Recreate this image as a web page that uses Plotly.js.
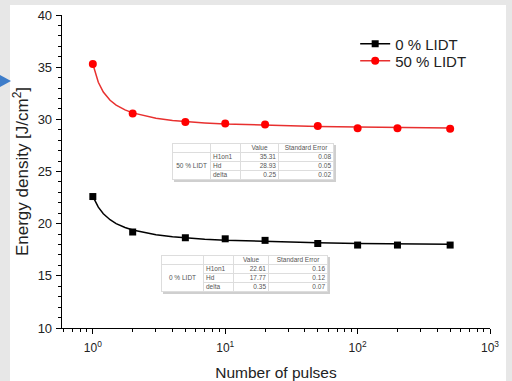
<!DOCTYPE html>
<html>
<head>
<meta charset="utf-8">
<script src="https://cdn.plot.ly/plotly-3.0.1.min.js"></script>
<style>
  html, body { margin:0; padding:0; width:512px; height:381px; background:#e7e7e7; overflow:hidden; font-family:"Liberation Sans", Arial, sans-serif; }
  #panel { position:absolute; left:10px; top:5px; width:496px; height:376px; background:#fff; }
  #plot { position:absolute; left:10px; top:5px; width:496px; height:376px; }
  #arrow { position:absolute; left:0; top:75px; width:0; height:0; border-top:6px solid transparent; border-bottom:6px solid transparent; border-left:11px solid #3d7cc9; }
  table.fit { position:absolute; border-collapse:collapse; font-family:"Liberation Sans", Arial, sans-serif; font-size:6.5px; color:#555; background:#fff; border:1px solid #aaa; box-shadow:2px 2px 0 #cfcfcf; table-layout:fixed; }
  table.fit td { border:1px solid #ddd; padding:0 2px; height:8px; line-height:8px; white-space:nowrap; overflow:hidden; }
  table.fit td.l { text-align:left; }
  table.fit td.r { text-align:right; }
  table.fit td.c { text-align:center; }
</style>
</head>
<body>
<div id="panel"></div>
<div id="arrow"></div>
<div id="plot"></div>
<table class="fit" id="t50" style="left:172px; top:143px; width:161px;"></table>
<table class="fit" id="t0" style="left:161px; top:255px; width:166px;"></table>
<script>
// ---- data ----
const pulses = [1, 2, 5, 10, 20, 50, 100, 200, 500];
const lidt0  = [22.6, 19.2, 18.65, 18.55, 18.4, 18.1, 17.95, 17.95, 17.95];
const lidt50 = [35.3, 30.55, 29.75, 29.6, 29.5, 29.35, 29.15, 29.15, 29.1];

// fitted curves as seen in the picture
const fitX    = [1, 1.1, 1.2, 1.35, 1.5, 1.75, 2, 2.5, 3, 4, 5, 7, 10, 20, 50, 100, 200, 500];
const fit0Y   = [22.61, 21.58, 20.95, 20.38, 20.01, 19.63, 19.39, 19.11, 18.94, 18.75, 18.63, 18.51, 18.41, 18.28, 18.17, 18.11, 18.07, 18.03];
const fit50Y  = [35.31, 33.55, 32.62, 31.83, 31.36, 30.90, 30.62, 30.30, 30.11, 29.90, 29.79, 29.66, 29.55, 29.42, 29.31, 29.26, 29.22, 29.18];

const seriesNames = ["0 % LIDT", "50 % LIDT"];
const xTickVals = [1, 10, 100, 1000];
const xTickText = ["10<sup>0</sup>", "10<sup>1</sup>", "10<sup>2</sup>", "10<sup>3</sup>"];

// fit tables
const tableHeader = ["", "", "Value", "Standard Error"];
const paramNames = ["H1on1", "Hd", "delta"];
const fit50Vals = ["35.31", "28.93", "0.25"];
const fit50Errs = ["0.08", "0.05", "0.02"];
const fit0Vals  = ["22.61", "17.77", "0.35"];
const fit0Errs  = ["0.16", "0.12", "0.07"];

function buildTable(id, label, vals, errs, widths) {
  const t = document.getElementById(id);
  let html = '<colgroup>' + widths.map(w => '<col style="width:' + w + 'px">').join('') + '</colgroup>';
  html += '<tr><td>&nbsp;</td><td>&nbsp;</td><td class="c">' + tableHeader[2] + '</td><td class="c">' + tableHeader[3] + '</td></tr>';
  for (let i = 0; i < paramNames.length; i++) {
    html += '<tr>';
    if (i === 0) html += '<td class="c" rowspan="3">' + label + '</td>';
    html += '<td class="l">' + paramNames[i] + '</td><td class="r">' + vals[i] + '</td><td class="r">' + errs[i] + '</td></tr>';
  }
  t.innerHTML = html;
}
buildTable("t50", seriesNames[1], fit50Vals, fit50Errs, [38, 30, 38, 55]);
buildTable("t0", seriesNames[0], fit0Vals, fit0Errs, [42, 30, 35, 59]);

const black = "#000000", red = "#ff0000", redLine = "#e8302f";

const traces = [
  { x: fitX, y: fit0Y, mode: "lines", line: {color: black, width: 1.5}, showlegend: false, hoverinfo: "skip" },
  { x: fitX, y: fit50Y, mode: "lines", line: {color: redLine, width: 1.5}, showlegend: false, hoverinfo: "skip" },
  { x: pulses, y: lidt0, mode: "markers", marker: {symbol: "square", size: 7, color: black}, showlegend: false },
  { x: pulses, y: lidt50, mode: "markers", marker: {symbol: "circle", size: 8, color: red}, showlegend: false },
  { x: [null], y: [null], mode: "lines+markers", name: seriesNames[0], legend: "legend", line: {color: black, width: 1.5}, marker: {symbol: "square", size: 7, color: black} },
  { x: [null], y: [null], mode: "lines+markers", name: seriesNames[1], legend: "legend2", line: {color: redLine, width: 1.5}, marker: {symbol: "circle", size: 8, color: red} }
];

const legendCommon = {xanchor: "left", yanchor: "middle", bgcolor: "rgba(0,0,0,0)", font: {size: 15, color: "#222"}, itemwidth: 30};

const layout = {
  width: 496, height: 376,
  margin: {l: 52, r: 16, t: 10, b: 53},
  paper_bgcolor: "rgba(0,0,0,0)",
  plot_bgcolor: "rgba(0,0,0,0)",
  font: {family: "Liberation Sans, Arial, sans-serif", color: "#222", size: 12},
  showlegend: true,
  legend: Object.assign({x: 0.685, y: 0.907}, legendCommon),
  legend2: Object.assign({x: 0.685, y: 0.853}, legendCommon),
  xaxis: {
    type: "log", range: [Math.log10(0.585), 3],
    showline: true, linecolor: "#000", linewidth: 1.3, mirror: false,
    showgrid: false, zeroline: false,
    tickmode: "array", tickvals: xTickVals, ticktext: xTickText,
    ticks: "outside", ticklen: 5, tickwidth: 1, tickcolor: "#000",
    minor: {ticks: "outside", ticklen: 3, tickwidth: 1, tickcolor: "#000", dtick: "D1", showgrid: false},
    tickfont: {size: 12}, ticklabelstandoff: 3,
    title: {text: "Number of pulses", font: {size: 15.5}, standoff: 14}
  },
  yaxis: {
    range: [10, 40],
    showline: true, linecolor: "#000", linewidth: 1.3, mirror: false,
    showgrid: false, zeroline: false,
    dtick: 5, tick0: 10,
    ticks: "outside", ticklen: 5, tickwidth: 1, tickcolor: "#000",
    minor: {ticks: "outside", ticklen: 3, tickwidth: 1, tickcolor: "#000", dtick: 1, showgrid: false},
    tickfont: {size: 13}, ticklabelstandoff: 1,
    title: {text: "Energy density [J/cm<sup>2</sup>]", font: {size: 17}, standoff: 4}
  }
};

Plotly.newPlot("plot", traces, layout, {displayModeBar: false, staticPlot: true});
</script>
</body>
</html>
